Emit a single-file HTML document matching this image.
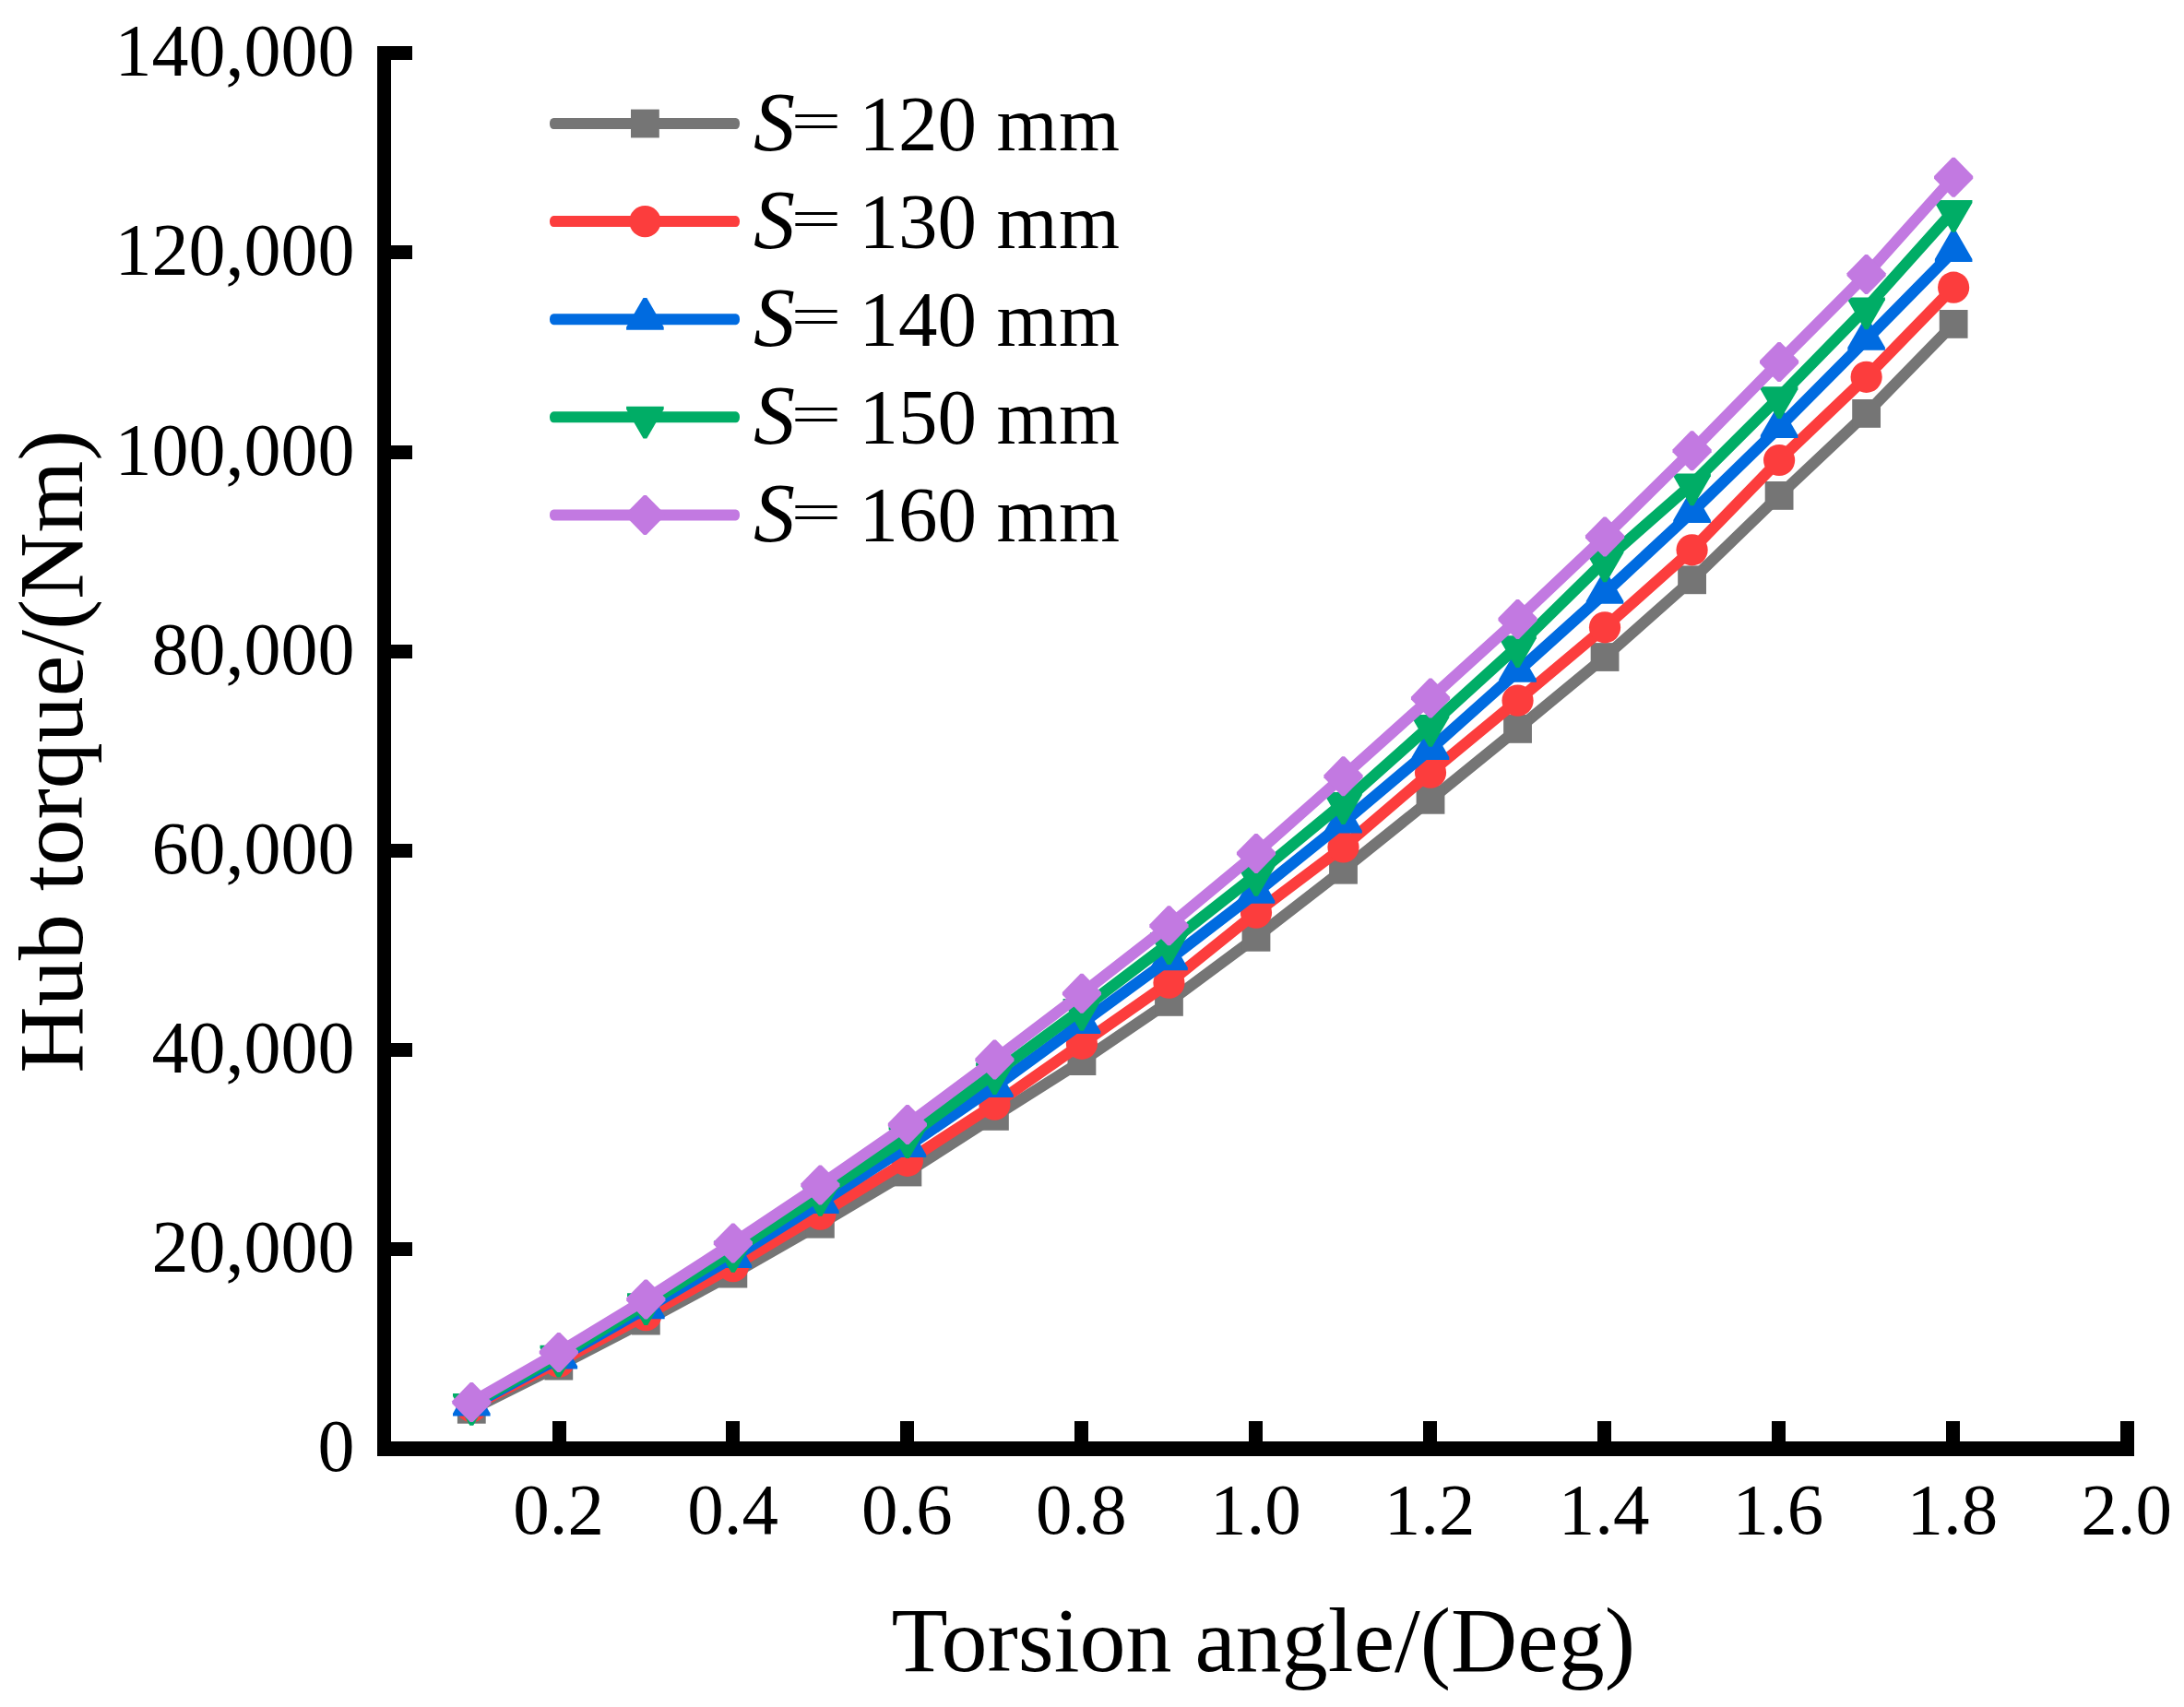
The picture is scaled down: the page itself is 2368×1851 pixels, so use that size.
<!DOCTYPE html>
<html lang="en"><head><meta charset="utf-8"><title>Hub torque vs torsion angle</title>
<style>
html,body{margin:0;padding:0;background:#fff;}
body{width:2368px;height:1851px;overflow:hidden;}
svg{display:block;}
text{font-family:"Liberation Serif","Times New Roman",serif;fill:#000;}
.tk{font-size:79px;}
.tky{font-size:80px;}
.ti{font-size:100px;}
.lg{font-size:85px;}
</style></head><body>
<svg width="2368" height="1851" viewBox="0 0 2368 1851">
<rect x="0" y="0" width="2368" height="1851" fill="#fff"/>

<g fill="#000" shape-rendering="crispEdges">
<rect x="409" y="50" width="15" height="1529"/>
<rect x="409" y="1563" width="1905" height="16"/>
<rect x="409" y="1347" width="38" height="15"/>
<rect x="409" y="1131" width="38" height="15"/>
<rect x="409" y="915" width="38" height="15"/>
<rect x="409" y="699" width="38" height="15"/>
<rect x="409" y="483" width="38" height="15"/>
<rect x="409" y="266" width="38" height="15"/>
<rect x="409" y="50" width="38" height="15"/>
<rect x="599" y="1541" width="15" height="30"/>
<rect x="787" y="1541" width="15" height="30"/>
<rect x="976" y="1541" width="15" height="30"/>
<rect x="1165" y="1541" width="15" height="30"/>
<rect x="1354" y="1541" width="15" height="30"/>
<rect x="1543" y="1541" width="15" height="30"/>
<rect x="1732" y="1541" width="15" height="30"/>
<rect x="1921" y="1541" width="15" height="30"/>
<rect x="2110" y="1541" width="15" height="30"/>
<rect x="2299" y="1541" width="15" height="30"/>
</g>
<g class="tky" text-anchor="end">
<text x="384.5" y="1594.90">0</text>
<text x="384.5" y="1378.90">20,000</text>
<text x="384.5" y="1162.90">40,000</text>
<text x="384.5" y="946.90">60,000</text>
<text x="384.5" y="730.90">80,000</text>
<text x="384.5" y="514.90">100,000</text>
<text x="384.5" y="297.90">120,000</text>
<text x="384.5" y="81.90">140,000</text>
</g>
<g class="tk" text-anchor="middle">
<text x="605.70" y="1663.2">0.2</text>
<text x="794.59" y="1663.2">0.4</text>
<text x="983.48" y="1663.2">0.6</text>
<text x="1172.37" y="1663.2">0.8</text>
<text x="1361.26" y="1663.2">1.0</text>
<text x="1550.15" y="1663.2">1.2</text>
<text x="1739.04" y="1663.2">1.4</text>
<text x="1927.93" y="1663.2">1.6</text>
<text x="2116.82" y="1663.2">1.8</text>
<text x="2305.71" y="1663.2">2.0</text>
</g>
<text class="ti" text-anchor="middle" x="1369.7" y="1811.7">Torsion angle/(Deg)</text>
<text class="ti" text-anchor="middle" transform="translate(89,815) rotate(-90)">Hub torque/(Nm)</text>
<g><polyline points="511.30,1528.30 605.82,1481.10 700.34,1432.10 794.86,1381.10 889.38,1327.20 983.90,1271.00 1078.42,1210.40 1172.94,1150.60 1267.46,1086.40 1361.98,1016.30 1456.50,943.20 1551.02,867.30 1645.54,790.40 1740.06,712.50 1834.58,628.80 1929.10,537.40 2023.62,448.40 2118.14,351.40" fill="none" stroke="#757575" stroke-width="12.2" stroke-linejoin="round" stroke-linecap="round"/>
<rect x="495.90" y="1512.90" width="30.8" height="30.8" fill="#757575"/>
<rect x="590.42" y="1465.70" width="30.8" height="30.8" fill="#757575"/>
<rect x="684.94" y="1416.70" width="30.8" height="30.8" fill="#757575"/>
<rect x="779.46" y="1365.70" width="30.8" height="30.8" fill="#757575"/>
<rect x="873.98" y="1311.80" width="30.8" height="30.8" fill="#757575"/>
<rect x="968.50" y="1255.60" width="30.8" height="30.8" fill="#757575"/>
<rect x="1063.02" y="1195.00" width="30.8" height="30.8" fill="#757575"/>
<rect x="1157.54" y="1135.20" width="30.8" height="30.8" fill="#757575"/>
<rect x="1252.06" y="1071.00" width="30.8" height="30.8" fill="#757575"/>
<rect x="1346.58" y="1000.90" width="30.8" height="30.8" fill="#757575"/>
<rect x="1441.10" y="927.80" width="30.8" height="30.8" fill="#757575"/>
<rect x="1535.62" y="851.90" width="30.8" height="30.8" fill="#757575"/>
<rect x="1630.14" y="775.00" width="30.8" height="30.8" fill="#757575"/>
<rect x="1724.66" y="697.10" width="30.8" height="30.8" fill="#757575"/>
<rect x="1819.18" y="613.40" width="30.8" height="30.8" fill="#757575"/>
<rect x="1913.70" y="522.00" width="30.8" height="30.8" fill="#757575"/>
<rect x="2008.22" y="433.00" width="30.8" height="30.8" fill="#757575"/>
<rect x="2102.74" y="336.00" width="30.8" height="30.8" fill="#757575"/>
</g>
<g><polyline points="511.30,1525.10 605.82,1476.70 700.34,1426.10 794.86,1373.10 889.38,1316.60 983.90,1258.80 1078.42,1197.70 1172.94,1131.80 1267.46,1065.70 1361.98,989.70 1456.50,918.50 1551.02,837.70 1645.54,759.60 1740.06,680.30 1834.58,596.30 1929.10,499.00 2023.62,408.80 2118.14,311.70" fill="none" stroke="#FC3D3D" stroke-width="12.2" stroke-linejoin="round" stroke-linecap="round"/>
<circle cx="511.30" cy="1525.10" r="17.1" fill="#FC3D3D"/>
<circle cx="605.82" cy="1476.70" r="17.1" fill="#FC3D3D"/>
<circle cx="700.34" cy="1426.10" r="17.1" fill="#FC3D3D"/>
<circle cx="794.86" cy="1373.10" r="17.1" fill="#FC3D3D"/>
<circle cx="889.38" cy="1316.60" r="17.1" fill="#FC3D3D"/>
<circle cx="983.90" cy="1258.80" r="17.1" fill="#FC3D3D"/>
<circle cx="1078.42" cy="1197.70" r="17.1" fill="#FC3D3D"/>
<circle cx="1172.94" cy="1131.80" r="17.1" fill="#FC3D3D"/>
<circle cx="1267.46" cy="1065.70" r="17.1" fill="#FC3D3D"/>
<circle cx="1361.98" cy="989.70" r="17.1" fill="#FC3D3D"/>
<circle cx="1456.50" cy="918.50" r="17.1" fill="#FC3D3D"/>
<circle cx="1551.02" cy="837.70" r="17.1" fill="#FC3D3D"/>
<circle cx="1645.54" cy="759.60" r="17.1" fill="#FC3D3D"/>
<circle cx="1740.06" cy="680.30" r="17.1" fill="#FC3D3D"/>
<circle cx="1834.58" cy="596.30" r="17.1" fill="#FC3D3D"/>
<circle cx="1929.10" cy="499.00" r="17.1" fill="#FC3D3D"/>
<circle cx="2023.62" cy="408.80" r="17.1" fill="#FC3D3D"/>
<circle cx="2118.14" cy="311.70" r="17.1" fill="#FC3D3D"/>
</g>
<g><polyline points="511.30,1524.00 605.82,1472.80 700.34,1418.70 794.86,1363.30 889.38,1304.30 983.90,1243.30 1078.42,1178.50 1172.94,1109.50 1267.46,1040.60 1361.98,968.10 1456.50,892.00 1551.02,812.40 1645.54,728.10 1740.06,643.10 1834.58,555.40 1929.10,463.40 2023.62,368.20 2118.14,272.30" fill="none" stroke="#006BE0" stroke-width="12.2" stroke-linejoin="round" stroke-linecap="round"/>
<polygon points="509.40,1500.80 513.20,1500.80 531.60,1532.66 531.60,1535.60 491.00,1535.60 491.00,1532.66" fill="#006BE0"/>
<polygon points="603.92,1449.60 607.72,1449.60 626.12,1481.46 626.12,1484.40 585.52,1484.40 585.52,1481.46" fill="#006BE0"/>
<polygon points="698.44,1395.50 702.24,1395.50 720.64,1427.36 720.64,1430.30 680.04,1430.30 680.04,1427.36" fill="#006BE0"/>
<polygon points="792.96,1340.10 796.76,1340.10 815.16,1371.96 815.16,1374.90 774.56,1374.90 774.56,1371.96" fill="#006BE0"/>
<polygon points="887.48,1281.10 891.28,1281.10 909.68,1312.96 909.68,1315.90 869.08,1315.90 869.08,1312.96" fill="#006BE0"/>
<polygon points="982.00,1220.10 985.80,1220.10 1004.20,1251.96 1004.20,1254.90 963.60,1254.90 963.60,1251.96" fill="#006BE0"/>
<polygon points="1076.52,1155.30 1080.32,1155.30 1098.72,1187.16 1098.72,1190.10 1058.12,1190.10 1058.12,1187.16" fill="#006BE0"/>
<polygon points="1171.04,1086.30 1174.84,1086.30 1193.24,1118.16 1193.24,1121.10 1152.64,1121.10 1152.64,1118.16" fill="#006BE0"/>
<polygon points="1265.56,1017.40 1269.36,1017.40 1287.76,1049.26 1287.76,1052.20 1247.16,1052.20 1247.16,1049.26" fill="#006BE0"/>
<polygon points="1360.08,944.90 1363.88,944.90 1382.28,976.76 1382.28,979.70 1341.68,979.70 1341.68,976.76" fill="#006BE0"/>
<polygon points="1454.60,868.80 1458.40,868.80 1476.80,900.66 1476.80,903.60 1436.20,903.60 1436.20,900.66" fill="#006BE0"/>
<polygon points="1549.12,789.20 1552.92,789.20 1571.32,821.06 1571.32,824.00 1530.72,824.00 1530.72,821.06" fill="#006BE0"/>
<polygon points="1643.64,704.90 1647.44,704.90 1665.84,736.76 1665.84,739.70 1625.24,739.70 1625.24,736.76" fill="#006BE0"/>
<polygon points="1738.16,619.90 1741.96,619.90 1760.36,651.76 1760.36,654.70 1719.76,654.70 1719.76,651.76" fill="#006BE0"/>
<polygon points="1832.68,532.20 1836.48,532.20 1854.88,564.06 1854.88,567.00 1814.28,567.00 1814.28,564.06" fill="#006BE0"/>
<polygon points="1927.20,440.20 1931.00,440.20 1949.40,472.06 1949.40,475.00 1908.80,475.00 1908.80,472.06" fill="#006BE0"/>
<polygon points="2021.72,345.00 2025.52,345.00 2043.92,376.86 2043.92,379.80 2003.32,379.80 2003.32,376.86" fill="#006BE0"/>
<polygon points="2116.24,249.10 2120.04,249.10 2138.44,280.96 2138.44,283.90 2097.84,283.90 2097.84,280.96" fill="#006BE0"/>
</g>
<g><polyline points="511.30,1522.60 605.82,1470.40 700.34,1413.90 794.86,1356.60 889.38,1295.50 983.90,1232.90 1078.42,1163.80 1172.94,1094.50 1267.46,1022.80 1361.98,948.60 1456.50,870.70 1551.02,786.60 1645.54,700.80 1740.06,608.10 1834.58,525.00 1929.10,430.80 2023.62,334.00 2118.14,228.60" fill="none" stroke="#00AD66" stroke-width="12.2" stroke-linejoin="round" stroke-linecap="round"/>
<polygon points="509.40,1545.80 513.20,1545.80 531.60,1513.94 531.60,1511.00 491.00,1511.00 491.00,1513.94" fill="#00AD66"/>
<polygon points="603.92,1493.60 607.72,1493.60 626.12,1461.74 626.12,1458.80 585.52,1458.80 585.52,1461.74" fill="#00AD66"/>
<polygon points="698.44,1437.10 702.24,1437.10 720.64,1405.24 720.64,1402.30 680.04,1402.30 680.04,1405.24" fill="#00AD66"/>
<polygon points="792.96,1379.80 796.76,1379.80 815.16,1347.94 815.16,1345.00 774.56,1345.00 774.56,1347.94" fill="#00AD66"/>
<polygon points="887.48,1318.70 891.28,1318.70 909.68,1286.84 909.68,1283.90 869.08,1283.90 869.08,1286.84" fill="#00AD66"/>
<polygon points="982.00,1256.10 985.80,1256.10 1004.20,1224.24 1004.20,1221.30 963.60,1221.30 963.60,1224.24" fill="#00AD66"/>
<polygon points="1076.52,1187.00 1080.32,1187.00 1098.72,1155.14 1098.72,1152.20 1058.12,1152.20 1058.12,1155.14" fill="#00AD66"/>
<polygon points="1171.04,1117.70 1174.84,1117.70 1193.24,1085.84 1193.24,1082.90 1152.64,1082.90 1152.64,1085.84" fill="#00AD66"/>
<polygon points="1265.56,1046.00 1269.36,1046.00 1287.76,1014.14 1287.76,1011.20 1247.16,1011.20 1247.16,1014.14" fill="#00AD66"/>
<polygon points="1360.08,971.80 1363.88,971.80 1382.28,939.94 1382.28,937.00 1341.68,937.00 1341.68,939.94" fill="#00AD66"/>
<polygon points="1454.60,893.90 1458.40,893.90 1476.80,862.04 1476.80,859.10 1436.20,859.10 1436.20,862.04" fill="#00AD66"/>
<polygon points="1549.12,809.80 1552.92,809.80 1571.32,777.94 1571.32,775.00 1530.72,775.00 1530.72,777.94" fill="#00AD66"/>
<polygon points="1643.64,724.00 1647.44,724.00 1665.84,692.14 1665.84,689.20 1625.24,689.20 1625.24,692.14" fill="#00AD66"/>
<polygon points="1738.16,631.30 1741.96,631.30 1760.36,599.44 1760.36,596.50 1719.76,596.50 1719.76,599.44" fill="#00AD66"/>
<polygon points="1832.68,548.20 1836.48,548.20 1854.88,516.34 1854.88,513.40 1814.28,513.40 1814.28,516.34" fill="#00AD66"/>
<polygon points="1927.20,454.00 1931.00,454.00 1949.40,422.14 1949.40,419.20 1908.80,419.20 1908.80,422.14" fill="#00AD66"/>
<polygon points="2021.72,357.20 2025.52,357.20 2043.92,325.34 2043.92,322.40 2003.32,322.40 2003.32,325.34" fill="#00AD66"/>
<polygon points="2116.24,251.80 2120.04,251.80 2138.44,219.94 2138.44,217.00 2097.84,217.00 2097.84,219.94" fill="#00AD66"/>
</g>
<g><polyline points="511.30,1520.60 605.82,1466.40 700.34,1409.00 794.86,1348.00 889.38,1284.90 983.90,1219.50 1078.42,1149.10 1172.94,1077.30 1267.46,1003.80 1361.98,925.40 1456.50,841.80 1551.02,757.10 1645.54,671.50 1740.06,582.00 1834.58,488.80 1929.10,392.50 2023.62,297.60 2118.14,192.30" fill="none" stroke="#C279E1" stroke-width="12.2" stroke-linejoin="round" stroke-linecap="round"/>
<polygon points="509.90,1499.10 512.70,1499.10 532.40,1519.20 532.40,1522.00 512.70,1542.10 509.90,1542.10 490.20,1522.00 490.20,1519.20" fill="#C279E1"/>
<polygon points="604.42,1444.90 607.22,1444.90 626.92,1465.00 626.92,1467.80 607.22,1487.90 604.42,1487.90 584.72,1467.80 584.72,1465.00" fill="#C279E1"/>
<polygon points="698.94,1387.50 701.74,1387.50 721.44,1407.60 721.44,1410.40 701.74,1430.50 698.94,1430.50 679.24,1410.40 679.24,1407.60" fill="#C279E1"/>
<polygon points="793.46,1326.50 796.26,1326.50 815.96,1346.60 815.96,1349.40 796.26,1369.50 793.46,1369.50 773.76,1349.40 773.76,1346.60" fill="#C279E1"/>
<polygon points="887.98,1263.40 890.78,1263.40 910.48,1283.50 910.48,1286.30 890.78,1306.40 887.98,1306.40 868.28,1286.30 868.28,1283.50" fill="#C279E1"/>
<polygon points="982.50,1198.00 985.30,1198.00 1005.00,1218.10 1005.00,1220.90 985.30,1241.00 982.50,1241.00 962.80,1220.90 962.80,1218.10" fill="#C279E1"/>
<polygon points="1077.02,1127.60 1079.82,1127.60 1099.52,1147.70 1099.52,1150.50 1079.82,1170.60 1077.02,1170.60 1057.32,1150.50 1057.32,1147.70" fill="#C279E1"/>
<polygon points="1171.54,1055.80 1174.34,1055.80 1194.04,1075.90 1194.04,1078.70 1174.34,1098.80 1171.54,1098.80 1151.84,1078.70 1151.84,1075.90" fill="#C279E1"/>
<polygon points="1266.06,982.30 1268.86,982.30 1288.56,1002.40 1288.56,1005.20 1268.86,1025.30 1266.06,1025.30 1246.36,1005.20 1246.36,1002.40" fill="#C279E1"/>
<polygon points="1360.58,903.90 1363.38,903.90 1383.08,924.00 1383.08,926.80 1363.38,946.90 1360.58,946.90 1340.88,926.80 1340.88,924.00" fill="#C279E1"/>
<polygon points="1455.10,820.30 1457.90,820.30 1477.60,840.40 1477.60,843.20 1457.90,863.30 1455.10,863.30 1435.40,843.20 1435.40,840.40" fill="#C279E1"/>
<polygon points="1549.62,735.60 1552.42,735.60 1572.12,755.70 1572.12,758.50 1552.42,778.60 1549.62,778.60 1529.92,758.50 1529.92,755.70" fill="#C279E1"/>
<polygon points="1644.14,650.00 1646.94,650.00 1666.64,670.10 1666.64,672.90 1646.94,693.00 1644.14,693.00 1624.44,672.90 1624.44,670.10" fill="#C279E1"/>
<polygon points="1738.66,560.50 1741.46,560.50 1761.16,580.60 1761.16,583.40 1741.46,603.50 1738.66,603.50 1718.96,583.40 1718.96,580.60" fill="#C279E1"/>
<polygon points="1833.18,467.30 1835.98,467.30 1855.68,487.40 1855.68,490.20 1835.98,510.30 1833.18,510.30 1813.48,490.20 1813.48,487.40" fill="#C279E1"/>
<polygon points="1927.70,371.00 1930.50,371.00 1950.20,391.10 1950.20,393.90 1930.50,414.00 1927.70,414.00 1908.00,393.90 1908.00,391.10" fill="#C279E1"/>
<polygon points="2022.22,276.10 2025.02,276.10 2044.72,296.20 2044.72,299.00 2025.02,319.10 2022.22,319.10 2002.52,299.00 2002.52,296.20" fill="#C279E1"/>
<polygon points="2116.74,170.80 2119.54,170.80 2139.24,190.90 2139.24,193.70 2119.54,213.80 2116.74,213.80 2097.04,193.70 2097.04,190.90" fill="#C279E1"/>
</g>
<rect x="596" y="128.00" width="206" height="12" rx="4.2" ry="5.5" fill="#757575"/>
<rect x="684.00" y="118.60" width="30.8" height="30.8" fill="#757575"/>
<text class="lg" y="163.30"><tspan x="817" font-style="italic" font-size="90">S</tspan><tspan x="857.6" dy="-11.4" font-size="60.5" textLength="54.9" lengthAdjust="spacingAndGlyphs">=</tspan> <tspan x="931.5" dy="11.4">120</tspan> <tspan x="1080.6" textLength="133.5" lengthAdjust="spacing">mm</tspan></text>
<rect x="596" y="234.10" width="206" height="12" rx="4.2" ry="5.5" fill="#FC3D3D"/>
<circle cx="699.40" cy="240.10" r="17.1" fill="#FC3D3D"/>
<text class="lg" y="269.30"><tspan x="817" font-style="italic" font-size="90">S</tspan><tspan x="857.6" dy="-11.4" font-size="60.5" textLength="54.9" lengthAdjust="spacingAndGlyphs">=</tspan> <tspan x="931.5" dy="11.4">130</tspan> <tspan x="1080.6" textLength="133.5" lengthAdjust="spacing">mm</tspan></text>
<rect x="596" y="340.20" width="206" height="12" rx="4.2" ry="5.5" fill="#006BE0"/>
<polygon points="697.50,323.00 701.30,323.00 719.70,354.86 719.70,357.80 679.10,357.80 679.10,354.86" fill="#006BE0"/>
<text class="lg" y="375.30"><tspan x="817" font-style="italic" font-size="90">S</tspan><tspan x="857.6" dy="-11.4" font-size="60.5" textLength="54.9" lengthAdjust="spacingAndGlyphs">=</tspan> <tspan x="931.5" dy="11.4">140</tspan> <tspan x="1080.6" textLength="133.5" lengthAdjust="spacing">mm</tspan></text>
<rect x="596" y="446.30" width="206" height="12" rx="4.2" ry="5.5" fill="#00AD66"/>
<polygon points="697.50,475.50 701.30,475.50 719.70,443.64 719.70,440.70 679.10,440.70 679.10,443.64" fill="#00AD66"/>
<text class="lg" y="481.30"><tspan x="817" font-style="italic" font-size="90">S</tspan><tspan x="857.6" dy="-11.4" font-size="60.5" textLength="54.9" lengthAdjust="spacingAndGlyphs">=</tspan> <tspan x="931.5" dy="11.4">150</tspan> <tspan x="1080.6" textLength="133.5" lengthAdjust="spacing">mm</tspan></text>
<rect x="596" y="552.40" width="206" height="12" rx="4.2" ry="5.5" fill="#C279E1"/>
<polygon points="698.00,536.90 700.80,536.90 720.50,557.00 720.50,559.80 700.80,579.90 698.00,579.90 678.30,559.80 678.30,557.00" fill="#C279E1"/>
<text class="lg" y="587.30"><tspan x="817" font-style="italic" font-size="90">S</tspan><tspan x="857.6" dy="-11.4" font-size="60.5" textLength="54.9" lengthAdjust="spacingAndGlyphs">=</tspan> <tspan x="931.5" dy="11.4">160</tspan> <tspan x="1080.6" textLength="133.5" lengthAdjust="spacing">mm</tspan></text>
</svg></body></html>
